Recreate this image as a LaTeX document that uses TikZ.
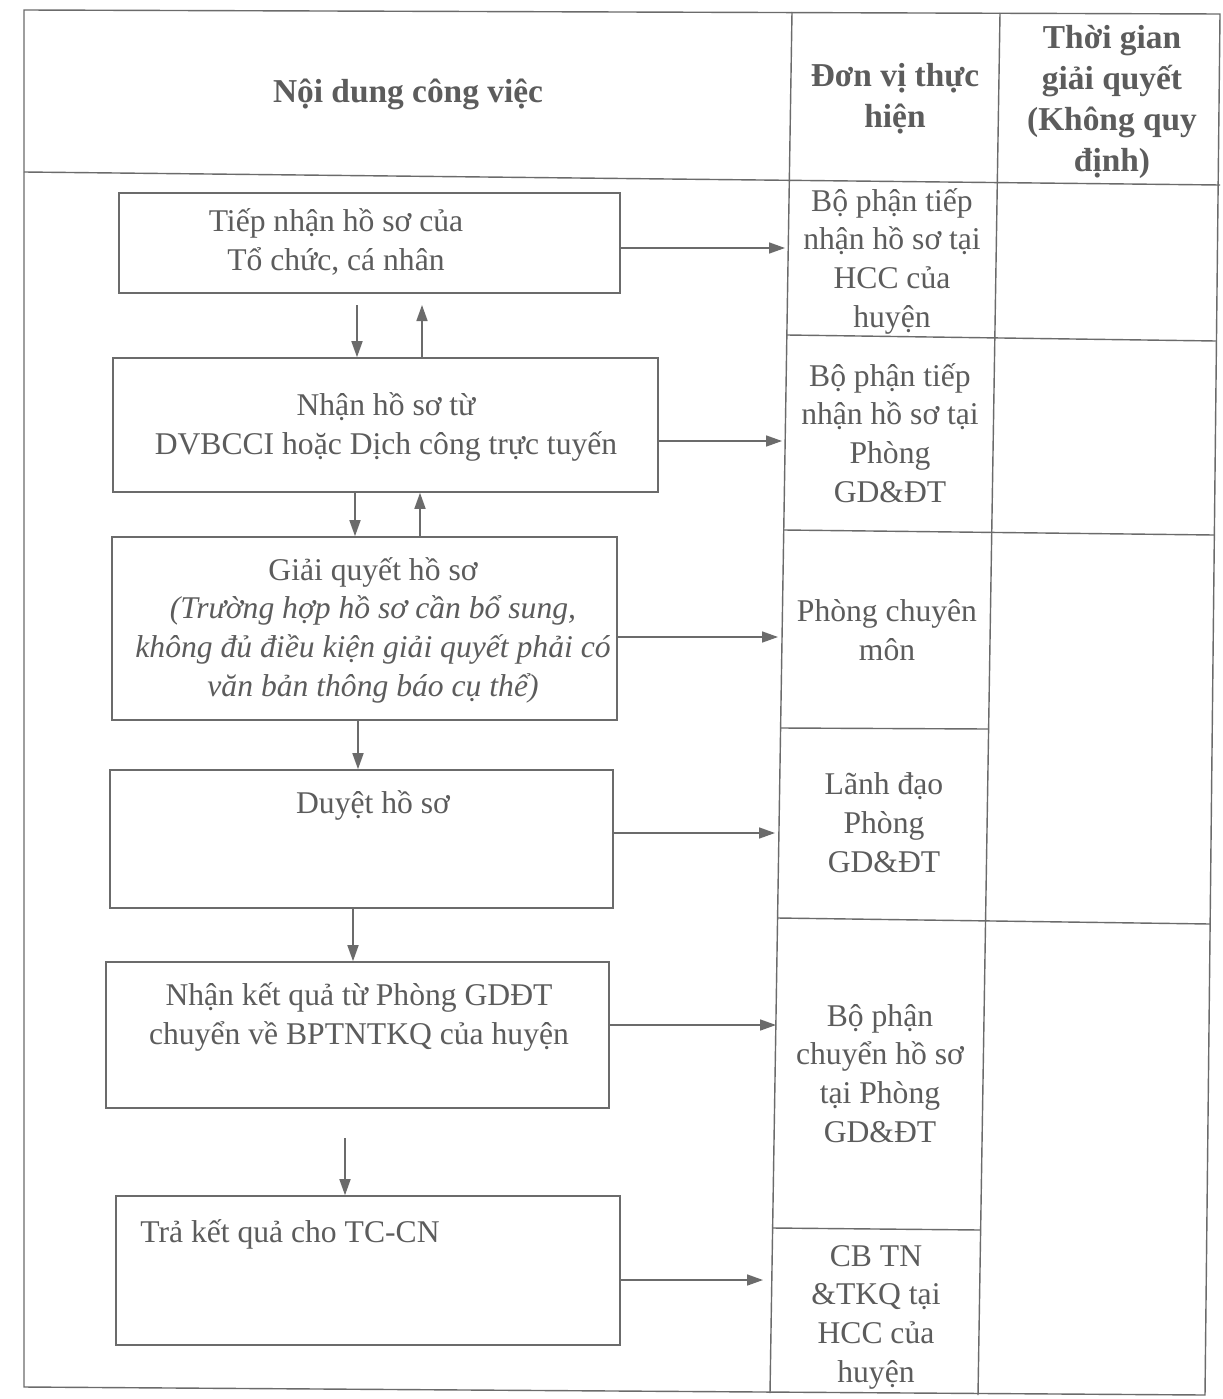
\documentclass[tikz,border=0pt]{standalone}
\usepackage{fontspec}
\setmainfont{Liberation Serif}
\usetikzlibrary{arrows.meta,fit}
\definecolor{ink}{gray}{0.36}
\definecolor{rule}{gray}{0.42}
\begin{document}
\begin{tikzpicture}[x=0.02cm,y=-0.02cm,
  tbl/.style={draw=rule,line width=0.8pt},
  box/.style={draw=rule,line width=0.9pt,inner sep=0pt},
  arr/.style={draw=rule,line width=0.9pt,-{Triangle[length=0.32cm,width=0.22cm]}},
  txt/.style={text=ink,font=\fontsize{18}{22}\selectfont,align=center,inner sep=0pt,anchor=base},
  hdr/.style={text=ink,font=\fontsize{19}{23.5}\selectfont\bfseries,align=center,inner sep=0pt,anchor=base}]
\fill[white] (0,0) rectangle (1223,1399);
\useasboundingbox (0,0) rectangle (1223,1399);

% ---- table frame ----
\draw[tbl] (24,10) -- (1220,14) -- (1205,1395) -- (24,1387) -- cycle;
\draw[tbl] (24,172) -- (1220,185);
\draw[tbl] (792,12) -- (770,1393);
\draw[tbl] (1000,13) -- (978,1395);
\draw[tbl] (787,335) -- (1216,341);
\draw[tbl] (784,530) -- (1214,535);
\draw[tbl] (780.6,728) -- (988.6,729);
\draw[tbl] (777.6,918) -- (1210,924);
\draw[tbl] (772.7,1228) -- (980.7,1230);

% ---- headers (y = baseline of last line) ----
\node[hdr] (h1) at (408,103) {Nội dung công việc};
\node[hdr] (h2) at (895,128) {Đơn vị thực\\hiện};
\node[hdr] (h3) at (1112,172) {Thời gian\\giải quyết\\(Không quy\\định)};

% ---- unit column ----
\node[txt] (u1) at (892,327) {Bộ phận tiếp\\nhận hồ sơ tại\\HCC của\\huyện};
\node[txt] (u2) at (890,502) {Bộ phận tiếp\\nhận hồ sơ tại\\Phòng\\GD\&ĐT};
\node[txt] (u3) at (887,660) {Phòng chuyên\\môn};
\node[txt] (u4) at (884,872) {Lãnh đạo\\Phòng\\GD\&ĐT};
\node[txt] (u5) at (880,1142) {Bộ phận\\chuyển hồ sơ\\tại Phòng\\GD\&ĐT};
\node[txt] (u6) at (876,1382) {CB TN\\\&TKQ tại\\HCC của\\huyện};

% ---- flow boxes ----
\node[box,fit={(119,193) (620,293)}] (b1) {};
\node[box,fit={(113,358) (658,492)}] (b2) {};
\node[box,fit={(112,537) (617,720)}] (b3) {};
\node[box,fit={(110,770) (613,908)}] (b4) {};
\node[box,fit={(106,962) (609,1108)}] (b5) {};
\node[box,fit={(116,1196) (620,1345)}] (b6) {};

\node[txt] (t1) at (336,270) {Tiếp nhận hồ sơ của\\Tổ chức, cá nhân};
\node[txt] (t2) at (386,454) {Nhận hồ sơ từ\\DVBCCI hoặc Dịch công trực tuyến};
\node[txt] (t3) at (373,696) {Giải quyết hồ sơ\\\itshape(Trường hợp hồ sơ cần bổ sung,\\\itshape không đủ điều kiện giải quyết phải có\\\itshape văn bản thông báo cụ thể)};
\node[txt] (t4) at (373,813) {Duyệt hồ sơ};
\node[txt] (t5) at (359,1044) {Nhận kết quả từ Phòng GDĐT\\chuyển về BPTNTKQ của huyện};
\node[txt,anchor=base west] (t6) at (140,1242) {Trả kết quả cho TC-CN};

% ---- arrow end points ----
\coordinate (e1) at (785,248);
\coordinate (e2) at (782,441);
\coordinate (e3) at (778,637);
\coordinate (e4) at (775,833);
\coordinate (e5) at (776,1025);
\coordinate (e6) at (763,1280);
\coordinate (d1) at (357,305);
\coordinate (k1) at (422,305);
\coordinate (d2) at (355,0);
\coordinate (k2) at (420,0);
\coordinate (d3) at (358,0);
\coordinate (d4) at (353,0);
\coordinate (d5) at (345,1138);

% ---- right arrows ----
\draw[arr] (b1.east |- e1) -- (e1);
\draw[arr] (b2.east |- e2) -- (e2);
\draw[arr] (b3.east |- e3) -- (e3);
\draw[arr] (b4.east |- e4) -- (e4);
\draw[arr] (b5.east |- e5) -- (e5);
\draw[arr] (b6.east |- e6) -- (e6);

% ---- vertical arrows ----
\draw[arr] (d1) -- (d1 |- b2.north);
\draw[arr] (k1 |- b2.north) -- (k1);
\draw[arr] (d2 |- b2.south) -- (d2 |- b3.north);
\draw[arr] (k2 |- b3.north) -- (k2 |- b2.south);
\draw[arr] (d3 |- b3.south) -- (d3 |- b4.north);
\draw[arr] (d4 |- b4.south) -- (d4 |- b5.north);
\draw[arr] (d5) -- (d5 |- b6.north);
\end{tikzpicture}
\end{document}
